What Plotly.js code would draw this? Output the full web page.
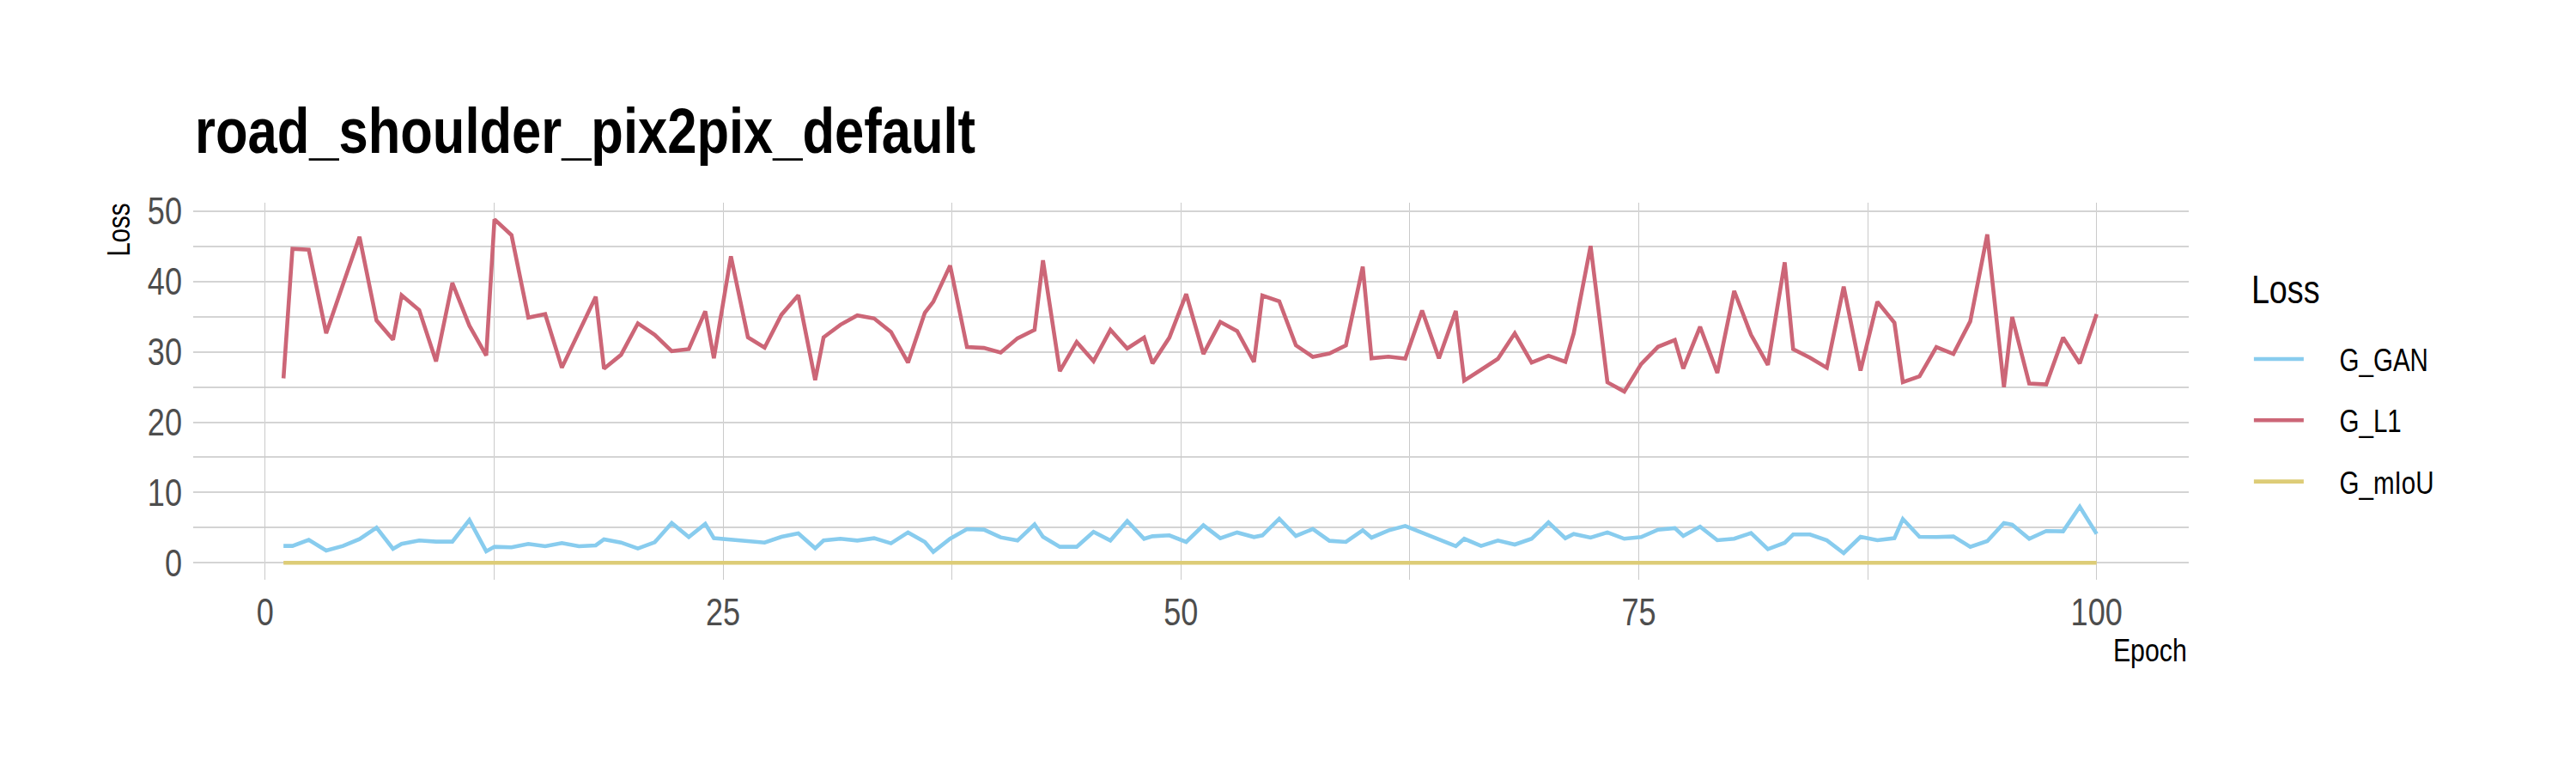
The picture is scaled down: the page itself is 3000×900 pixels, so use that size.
<!DOCTYPE html>
<html>
<head>
<meta charset="utf-8">
<script src="https://cdn.plot.ly/plotly-3.0.1.min.js"></script>
<style>
  html, body { margin: 0; padding: 0; background: #ffffff; }
  #chart { width: 3000px; height: 900px; }
</style>
</head>
<body>
<div id="chart"></div>
<script>
const chartTitle = "road_shoulder_pix2pix_default";
const xAxisTitle = "Epoch";
const yAxisTitle = "Loss";
const legendTitle = "Loss";
const seriesNames = ["G_GAN", "G_L1", "G_mIoU"];
const seriesColors = ["#88CCEE", "#CC6677", "#DDCC77"];

const epoch = [
  1.0, 1.49, 2.38, 3.33, 4.25, 5.15, 6.08, 6.98, 7.45, 8.41,
  9.33, 10.22, 11.15, 12.07, 12.52, 13.45, 14.37, 15.29, 16.2, 17.13,
  18.05, 18.5, 19.43, 20.35, 21.27, 22.2, 23.13, 24.03, 24.5, 25.43,
  26.36, 27.27, 28.19, 29.11, 30.03, 30.49, 31.41, 32.33, 33.25, 34.17,
  35.1, 36.02, 36.48, 37.4, 38.32, 39.24, 40.16, 41.08, 42.01, 42.47,
  43.39, 44.31, 45.23, 46.15, 47.07, 47.99, 48.45, 49.37, 50.29, 51.23,
  52.15, 53.07, 53.99, 54.45, 55.37, 56.28, 57.2, 58.11, 59.01, 59.93,
  60.41, 61.33, 62.25, 63.17, 64.09, 65.01, 65.47, 66.39, 67.31, 68.23,
  69.15, 70.07, 70.99, 71.45, 72.37, 73.29, 74.21, 75.13, 76.05, 76.97,
  77.43, 78.35, 79.29, 80.21, 81.13, 82.05, 82.97, 83.43, 84.35, 85.27,
  86.19, 87.11, 88.03, 88.96, 89.42, 90.33, 91.25, 92.18, 93.1, 94.03,
  94.94, 95.39, 96.32, 97.25, 98.17, 99.08, 100.0
];

const gGAN = [
  2.40, 2.40, 3.26, 1.75, 2.40, 3.38, 5.00, 1.99, 2.69, 3.17,
  3.01, 3.01, 6.10, 1.63, 2.28, 2.20, 2.69, 2.36, 2.81, 2.36,
  2.48, 3.34, 2.89, 2.03, 2.93, 5.66, 3.66, 5.54, 3.50, 3.26,
  3.05, 2.87, 3.70, 4.19, 2.07, 3.17, 3.42, 3.17, 3.50, 2.77,
  4.32, 2.97, 1.55, 3.42, 4.80, 4.72, 3.62, 3.17, 5.46, 3.70,
  2.28, 2.28, 4.40, 3.17, 5.94, 3.42, 3.78, 3.91, 2.97, 5.33,
  3.50, 4.32, 3.66, 3.91, 6.27, 3.82, 4.80, 3.13, 2.97, 4.64,
  3.58, 4.60, 5.25, 4.29, 3.33, 2.36, 3.42, 2.40, 3.17, 2.60,
  3.42, 5.74, 3.50, 4.11, 3.58, 4.32, 3.42, 3.66, 4.72, 4.93,
  3.82, 5.13, 3.21, 3.42, 4.23, 1.95, 2.85, 4.03, 4.03, 3.20,
  1.38, 3.70, 3.21, 3.50, 6.23, 3.70, 3.66, 3.74, 2.28, 3.09,
  5.66, 5.41, 3.42, 4.52, 4.48, 7.98, 4.11
];

const gL1 = [
  26.24, 44.66, 44.54, 32.64, 39.60, 46.37, 34.47, 31.74, 38.06, 35.94,
  28.64, 39.81, 33.73, 29.49, 48.85, 46.61, 34.88, 35.37, 27.75, 32.84,
  37.85, 27.62, 29.58, 34.06, 32.43, 30.11, 30.40, 35.78, 29.09, 43.60,
  32.07, 30.60, 35.29, 38.06, 25.99, 32.07, 33.86, 35.20, 34.75, 32.84,
  28.48, 35.57, 37.12, 42.29, 30.68, 30.56, 29.90, 31.94, 33.13, 43.03,
  27.26, 31.41, 28.68, 33.13, 30.48, 32.03, 28.36, 32.03, 38.22, 29.70,
  34.26, 32.96, 28.56, 38.02, 37.20, 30.93, 29.30, 29.78, 30.93, 42.13,
  29.09, 29.33, 29.05, 35.90, 29.09, 35.82, 25.91, 27.46, 29.01, 32.64,
  28.48, 29.45, 28.60, 32.64, 45.07, 25.67, 24.36, 28.27, 30.72, 31.69,
  27.62, 33.57, 27.01, 38.67, 32.43, 28.15, 42.74, 30.40, 29.17, 27.75,
  39.28, 27.34, 37.12, 34.14, 25.70, 26.52, 30.68, 29.70, 34.34, 46.70,
  24.98, 34.96, 25.50, 25.37, 32.03, 28.36, 35.37
];

const gMIoU = [
  0, 0, 0, 0, 0, 0, 0, 0, 0, 0,
  0, 0, 0, 0, 0, 0, 0, 0, 0, 0,
  0, 0, 0, 0, 0, 0, 0, 0, 0, 0,
  0, 0, 0, 0, 0, 0, 0, 0, 0, 0,
  0, 0, 0, 0, 0, 0, 0, 0, 0, 0,
  0, 0, 0, 0, 0, 0, 0, 0, 0, 0,
  0, 0, 0, 0, 0, 0, 0, 0, 0, 0,
  0, 0, 0, 0, 0, 0, 0, 0, 0, 0,
  0, 0, 0, 0, 0, 0, 0, 0, 0, 0,
  0, 0, 0, 0, 0, 0, 0, 0, 0, 0,
  0, 0, 0, 0, 0, 0, 0, 0, 0, 0,
  0, 0, 0, 0, 0, 0, 0
];

const xTickVals = [0, 25, 50, 75, 100];
const xMinorVals = [12.5, 37.5, 62.5, 87.5];
const yTickVals = [0, 10, 20, 30, 40, 50];
const yMinorVals = [5, 15, 25, 35, 45];

const FONT = '"Liberation Sans", Arial, sans-serif';
const NARROW = 0.82;   // horizontal compression, to imitate Arial Narrow
const GRID_H = '#d4d4d4';
const GRID_V = '#cacaca';

const seriesValues = [gGAN, gL1, gMIoU];
const traces = seriesNames.map((name, i) => ({
  type: 'scatter',
  mode: 'lines',
  name: name,
  x: epoch,
  y: seriesValues[i],
  line: { color: seriesColors[i], width: 4.6 },
  legendgroup: name,
  hoverinfo: 'x+y+name'
}));

const layout = {
  width: 3000,
  height: 900,
  paper_bgcolor: '#ffffff',
  plot_bgcolor: '#ffffff',
  margin: { l: 225, r: 451, t: 236, b: 225, pad: 0 },
  font: { family: FONT, color: '#000000' },
  title: {
    text: chartTitle,
    font: { family: FONT, size: 75, color: '#000000', weight: 'bold' },
    xref: 'container', yref: 'container',
    x: 227 / 3000, xanchor: 'left',
    y: 1 - 152 / 900, yanchor: 'middle'
  },
  xaxis: {
    range: [-3.93, 105.03],
    tickmode: 'array',
    tickvals: xTickVals,
    ticktext: xTickVals.map(String),
    showgrid: true, gridcolor: GRID_V, gridwidth: 1,
    minor: { tickmode: 'array', tickvals: xMinorVals, showgrid: true, gridcolor: GRID_V, gridwidth: 1 },
    zeroline: false, showline: false, ticks: '',
    tickfont: { family: FONT, size: 44, color: '#4d4d4d' },
    ticklabelstandoff: 8
  },
  yaxis: {
    range: [-2.41, 51.22],
    tickmode: 'array',
    tickvals: yTickVals,
    ticktext: yTickVals.map(String),
    showgrid: true, gridcolor: GRID_H, gridwidth: 2,
    minor: { tickmode: 'array', tickvals: yMinorVals, showgrid: true, gridcolor: GRID_H, gridwidth: 2 },
    zeroline: false, showline: false, ticks: '',
    tickfont: { family: FONT, size: 44, color: '#4d4d4d' },
    ticklabelstandoff: 12
  },
  showlegend: true,
  legend: {
    title: { text: legendTitle, font: { family: FONT, size: 46, color: '#000000' } },
    font: { family: FONT, size: 36, color: '#000000' },
    x: 1.0305, xanchor: 'left',
    y: 0.7897, yanchor: 'top',
    bgcolor: 'rgba(0,0,0,0)',
    borderwidth: 0,
    itemwidth: 58,
    entrywidth: 240,
    tracegroupgap: 21.5,
    traceorder: 'grouped'
  },
  annotations: [
    {
      text: xAxisTitle, xref: 'paper', yref: 'paper',
      x: 1, xanchor: 'right', align: 'right', y: (675 - 757) / 439, yanchor: 'middle',
      showarrow: false, font: { family: FONT, size: 37, color: '#000000' }
    },
    {
      text: yAxisTitle, xref: 'paper', yref: 'paper', textangle: -90,
      x: (139 - 225) / 2324, xanchor: 'center', y: (675 - 267.7) / 439, yanchor: 'middle',
      showarrow: false, font: { family: FONT, size: 36, color: '#000000' }
    }
  ]
};

Plotly.newPlot('chart', traces, layout, { staticPlot: true, displayModeBar: false }).then(function (gd) {
  // narrow the glyphs (Arial Narrow look) while keeping each text's anchor point
  gd.querySelectorAll('text').forEach(function (t) {
    if (!t.textContent || !t.textContent.trim()) return;
    var len = t.getComputedTextLength();
    if (len > 0) {
      t.setAttribute('textLength', (len * NARROW).toFixed(2));
      t.setAttribute('lengthAdjust', 'spacingAndGlyphs');
    }
  });
  // legend spacing like the reference: wider gap key->label, more room under the title
  gd.querySelectorAll('.legend .scrollbox').forEach(function (e) { e.removeAttribute('clip-path'); });
  gd.querySelectorAll('.legend .legendtext').forEach(function (t) {
    t.setAttribute('x', (parseFloat(t.getAttribute('x') || '0') + 36.7).toFixed(2));
  });
  var lt = gd.querySelector('.legend .legendtitletext');
  if (lt) lt.setAttribute('y', (parseFloat(lt.getAttribute('y') || '0') - 35).toFixed(2));
});
</script>
</body>
</html>
